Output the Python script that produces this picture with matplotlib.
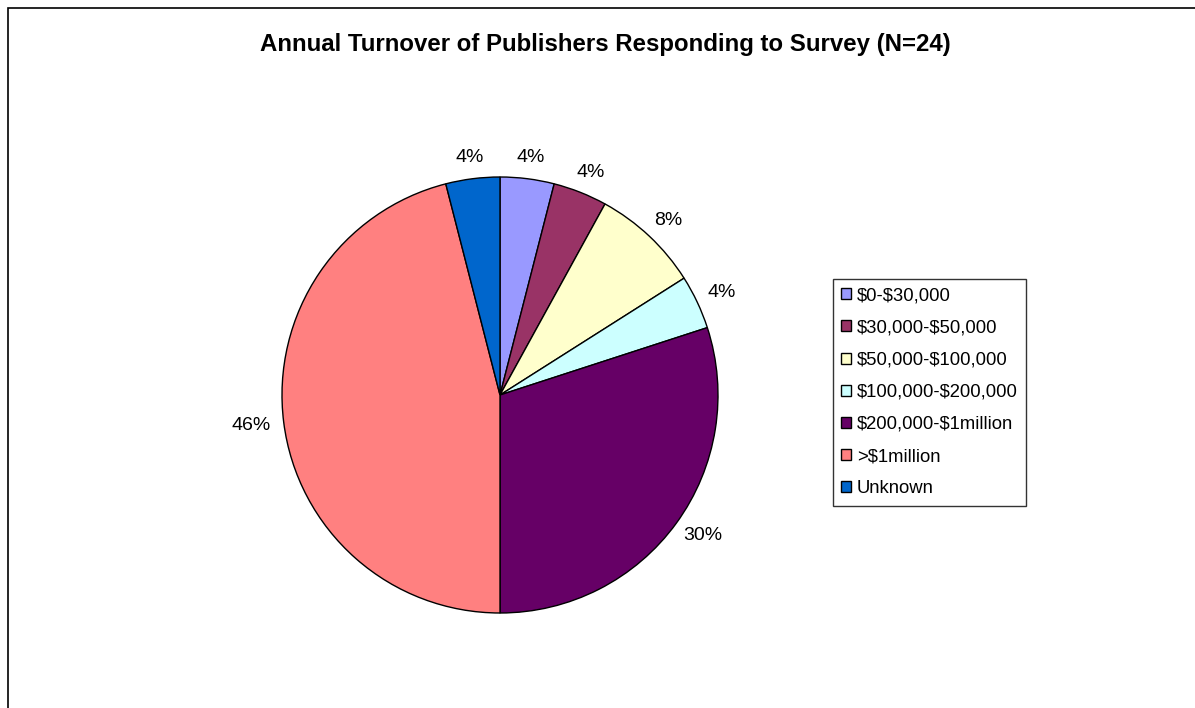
import numpy as np
import matplotlib.pyplot as plt
from matplotlib.patches import Rectangle

categories = ['$0-$30,000', '$30,000-$50,000', '$50,000-$100,000',
              '$100,000-$200,000', '$200,000-$1million', '>$1million', 'Unknown']
shares = [4, 4, 8, 4, 30, 46, 4]
colors = ['#9999FF', '#993366', '#FFFFCC', '#CCFFFF', '#660066', '#FF8080', '#0066CC']

plt.rcParams['font.family'] = ['Liberation Sans', 'DejaVu Sans']
plt.rcParams['text.parse_math'] = False

W, H = 1195, 708
fig = plt.figure(figsize=(W / 100, H / 100), dpi=100)

# outer chart border (runs off the right and bottom edges)
fig.patches.append(Rectangle((8 / W, -0.1), 1.2, 1.1 - 8 / H, transform=fig.transFigure,
                             fill=False, edgecolor='black', linewidth=1.2))

fig.text(605 / W, 1 - 45 / H, 'Annual Turnover of Publishers Responding to Survey (N=24)',
         ha='center', va='center', fontsize=17.3, fontweight='bold')

# pie centred at (500, 395) px with radius 218 px
cx, cy, r = 500, 395, 218
ax = fig.add_axes([(cx - r) / W, (H - cy - r) / H, 2 * r / W, 2 * r / H])
wedges, texts, autotexts = ax.pie(
    shares, colors=colors, startangle=90, counterclock=False,
    autopct='%d%%', pctdistance=1.1,
    wedgeprops=dict(edgecolor='black', linewidth=1),
    textprops=dict(fontsize=14))
ax.set_xlim(-1, 1)
ax.set_ylim(-1, 1)
ax.set_aspect('equal')
ax.axis('off')

# push each percentage label out so its box sits just beyond the rim
renderer = fig.canvas.get_renderer()
for w, t in zip(wedges, autotexts):
    theta = np.deg2rad((w.theta1 + w.theta2) / 2)
    bb = t.get_window_extent(renderer)
    half_w = bb.width / 2 / r
    half_h = bb.height / 2 / r
    ra = 1.06
    t.set_position((ra * np.cos(theta) + half_w * np.cos(theta),
                    ra * np.sin(theta) + half_h * np.sin(theta)))

leg = fig.legend(wedges, categories, loc='upper left',
                 bbox_to_anchor=(833 / W, 1 - 279 / H),
                 fontsize=13.3, frameon=True, fancybox=False, shadow=False,
                 handlelength=0.55, handleheight=0.55, handletextpad=0.3,
                 labelspacing=0.82, borderpad=0.45, borderaxespad=0)
leg.get_frame().set_edgecolor('black')
leg.get_frame().set_linewidth(1)
for h in leg.legend_handles:
    h.set_linewidth(1)
    h.set_edgecolor('black')

fig.savefig('out.png', dpi=100)
